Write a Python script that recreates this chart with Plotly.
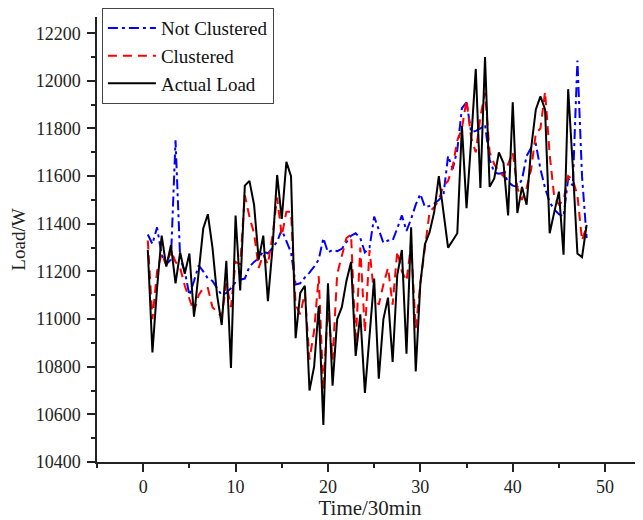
import plotly.graph_objects as go

time = [i * 0.5 for i in range(1, 97)]

actual_load = [
    11290, 10860, 11130, 11350, 11220, 11310, 11150, 11280, 11190, 11275,
    11010, 11200, 11380, 11440, 11300, 11100, 10975, 11245, 10795, 11435,
    11120, 11560, 11580, 11480, 11250, 11350, 11075, 11300, 11605, 11420,
    11660, 11600, 10920, 11110, 11140, 10700, 10800, 11055, 10555, 11150,
    10720, 11000, 11050, 11160, 11240, 10845, 11020, 10690, 10930, 11170,
    10750, 11000, 11090, 10820, 11185, 11290, 10855, 11385, 10780, 11150,
    11315, 11365, 11450, 11600, 11450, 11300, 11330, 11360, 11810, 11465,
    11750, 12050, 11550, 12100, 11555, 11590, 11700, 11655, 11435, 11910,
    11445, 11555, 11480, 11720, 11880, 11935, 11880, 11360, 11450, 11535,
    11270, 11965, 11640, 11275, 11260, 11395,
]

clustered = [
    11330, 11000, 11200, 11275, 11225, 11290, 11240, 11215, 11140, 11080,
    11030, 11100, 11130, 11130, 11050, 11030, 11010, 11150, 11050, 11240,
    11230, 11520, 11430, 11360, 11215, 11270, 11230, 11350, 11510, 11350,
    11450, 11450, 11060, 11020, 11110, 10830, 10950, 11180, 10700, 11060,
    10830, 11190, 11260, 11340, 11355, 10900, 11300, 10945, 11290, 11100,
    11060, 11145, 11215, 11060, 11285, 11200, 11160, 11315, 10960, 11150,
    11300, 11450, 11470, 11500, 11560, 11580, 11640, 11750, 11800, 11920,
    11760, 11700, 11850, 11950, 11700, 11650, 11620, 11600, 11650, 11700,
    11550, 11500, 11550, 11630, 11780, 11800, 11955, 11690, 11510, 11480,
    11500, 11600, 11585, 11520, 11330, 11390,
]

not_clustered = [
    11355, 11315, 11385, 11270, 11230, 11250, 11750, 11255, 11200, 11100,
    11160, 11225, 11200, 11170, 11160, 11130, 11100, 11110, 11130, 11155,
    11165, 11170, 11220, 11240, 11255, 11285, 11275, 11300, 11325, 11375,
    11330, 11280, 11145, 11150, 11175, 11195, 11220, 11250, 11340, 11280,
    11290, 11285, 11295, 11320, 11350, 11360, 11340, 11280, 11300, 11430,
    11375, 11320, 11330, 11330, 11380, 11435, 11370, 11420, 11480, 11525,
    11470, 11475, 11485, 11500, 11520, 11685, 11630, 11710, 11885, 11910,
    11785, 11790, 11800, 11815, 11670, 11615, 11610, 11615, 11575, 11560,
    11555, 11585, 11685, 11720, 11735, 11630, 11550, 11490, 11460, 11440,
    11430, 11590, 11560, 12085, 11600, 11340,
]

x_ticks = [0, 10, 20, 30, 40, 50]
y_ticks = [10400, 10600, 10800, 11000, 11200, 11400, 11600, 11800, 12000, 12200]

FONT = "Liberation Serif"

fig = go.Figure()
fig.add_trace(go.Scatter(x=time, y=not_clustered, mode="lines", name="Not Clustered",
                         line=dict(color="#0000ff", width=2, dash="10px,4px,3px,4px")))
fig.add_trace(go.Scatter(x=time, y=clustered, mode="lines", name="Clustered",
                         line=dict(color="#ff0000", width=2, dash="9px,6px")))
fig.add_trace(go.Scatter(x=time, y=actual_load, mode="lines", name="Actual Load",
                         line=dict(color="#000000", width=2)))

# the page body adds an 8px offset; the figure is sized to fill the rest of the window
fig.update_layout(
    width=635, height=512,
    margin=dict(l=89, r=0, t=9, b=58),
    paper_bgcolor="white", plot_bgcolor="white",
    font=dict(family=FONT, size=18, color="#222"),
    showlegend=True,
    legend=dict(x=0.009, y=1.02, xanchor="left", yanchor="top",
                bgcolor="white", bordercolor="#444", borderwidth=1,
                font=dict(family=FONT, size=19, color="#111"),
                tracegroupgap=0, itemwidth=48),
    xaxis=dict(range=[-5, 54.1], tickvals=x_ticks, tickformat="d", ticks="outside", ticklen=8,
               tickwidth=1.5, tickcolor="#222", showline=True, linecolor="#222",
               linewidth=1.5, showgrid=False, zeroline=False, automargin=False,
               tickfont=dict(family=FONT, size=18),
               minor=dict(ticks="outside", ticklen=4, dtick=5, tickcolor="#222", showgrid=False),
               title=dict(text="Time/30min", font=dict(family=FONT, size=21), standoff=14)),
    yaxis=dict(range=[10400, 12268], tickvals=y_ticks, tickformat="d", ticks="outside", ticklen=8,
               tickwidth=1.5, tickcolor="#222", showline=True, linecolor="#222",
               linewidth=1.5, showgrid=False, zeroline=False, automargin=False,
               tickfont=dict(family=FONT, size=18), ticklabelstandoff=3,
               minor=dict(ticks="outside", ticklen=4, dtick=100, tickcolor="#222", showgrid=False),
               title=dict(text="Load/W", font=dict(family=FONT, size=19), standoff=8)),
)

fig.write_html("out.html")
